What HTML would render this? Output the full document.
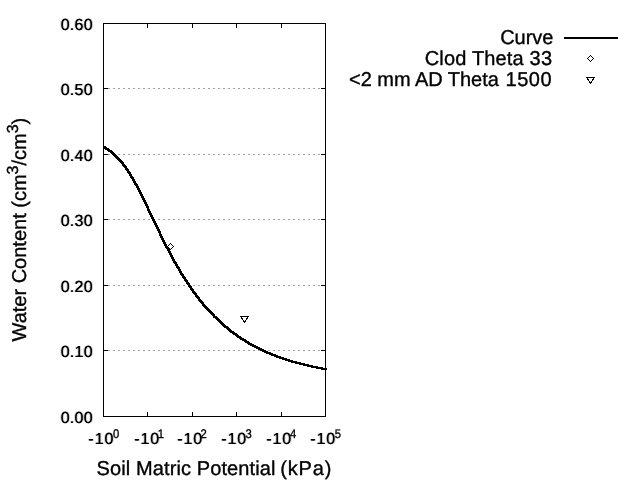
<!DOCTYPE html>
<html><head><meta charset="utf-8"><title>Water retention curve</title>
<style>html,body{margin:0;padding:0;background:#fff;}svg{display:block;}text{font-family:"Liberation Sans",Arial,sans-serif;fill:#000;stroke:#000;stroke-width:0.35px;}text.tk{stroke-width:0.1px;}</style>
</head><body>
<svg width="640" height="480" viewBox="0 0 640 480" text-rendering="geometricPrecision">
<rect width="640" height="480" fill="#fff"/>
<defs><filter id="hb" x="-5%" y="-20%" width="110%" height="140%" color-interpolation-filters="sRGB"><feConvolveMatrix order="3 1" kernelMatrix="0.2 1 0.2" divisor="1" edgeMode="none" preserveAlpha="false"/></filter></defs>
<g stroke="#a0a0a0" stroke-width="1" stroke-dasharray="2,3" shape-rendering="crispEdges">
<line x1="108" y1="350.5" x2="321" y2="350.5"/>
<line x1="108" y1="285.5" x2="321" y2="285.5"/>
<line x1="108" y1="219.5" x2="321" y2="219.5"/>
<line x1="108" y1="154.5" x2="321" y2="154.5"/>
<line x1="108" y1="88.5" x2="321" y2="88.5"/>
</g>
<g stroke="#000" stroke-width="1" fill="none" shape-rendering="crispEdges">
<rect x="103.5" y="23.5" width="222" height="393"/>
<line x1="103" y1="350.5" x2="108" y2="350.5"/><line x1="321" y1="350.5" x2="326" y2="350.5"/>
<line x1="103" y1="285.5" x2="108" y2="285.5"/><line x1="321" y1="285.5" x2="326" y2="285.5"/>
<line x1="103" y1="219.5" x2="108" y2="219.5"/><line x1="321" y1="219.5" x2="326" y2="219.5"/>
<line x1="103" y1="154.5" x2="108" y2="154.5"/><line x1="321" y1="154.5" x2="326" y2="154.5"/>
<line x1="103" y1="88.5" x2="108" y2="88.5"/><line x1="321" y1="88.5" x2="326" y2="88.5"/>
<line x1="147.5" y1="417" x2="147.5" y2="412"/><line x1="147.5" y1="23" x2="147.5" y2="28"/>
<line x1="192.5" y1="417" x2="192.5" y2="412"/><line x1="192.5" y1="23" x2="192.5" y2="28"/>
<line x1="236.5" y1="417" x2="236.5" y2="412"/><line x1="236.5" y1="23" x2="236.5" y2="28"/>
<line x1="281.5" y1="417" x2="281.5" y2="412"/><line x1="281.5" y1="23" x2="281.5" y2="28"/>
</g>
<text class="tk" filter="url(#hb)" x="93" y="423" letter-spacing="0.3" font-size="16" text-anchor="end">0.00</text>
<text class="tk" filter="url(#hb)" x="93" y="357" letter-spacing="0.3" font-size="16" text-anchor="end">0.10</text>
<text class="tk" filter="url(#hb)" x="93" y="292" letter-spacing="0.3" font-size="16" text-anchor="end">0.20</text>
<text class="tk" filter="url(#hb)" x="93" y="226" letter-spacing="0.3" font-size="16" text-anchor="end">0.30</text>
<text class="tk" filter="url(#hb)" x="93" y="161" letter-spacing="0.3" font-size="16" text-anchor="end">0.40</text>
<text class="tk" filter="url(#hb)" x="93" y="95" letter-spacing="0.3" font-size="16" text-anchor="end">0.50</text>
<text class="tk" filter="url(#hb)" x="93" y="30" letter-spacing="0.3" font-size="16" text-anchor="end">0.60</text>
<text class="tk" filter="url(#hb)" x="88.30" y="444" letter-spacing="1" font-size="16">-10</text><text transform="translate(112.90,437.7) scale(0.9,1)" font-size="12.5">0</text>
<text class="tk" filter="url(#hb)" x="134.15" y="444" letter-spacing="1" font-size="16">-10</text><text transform="translate(157.70,437.7) scale(0.9,1)" font-size="12.5">1</text>
<text class="tk" filter="url(#hb)" x="177.15" y="444" letter-spacing="1" font-size="16">-10</text><text transform="translate(200.50,437.7) scale(0.9,1)" font-size="12.5">2</text>
<text class="tk" filter="url(#hb)" x="221.15" y="444" letter-spacing="1" font-size="16">-10</text><text transform="translate(245.50,437.7) scale(0.9,1)" font-size="12.5">3</text>
<text class="tk" filter="url(#hb)" x="266.15" y="444" letter-spacing="1" font-size="16">-10</text><text transform="translate(289.90,437.7) scale(0.9,1)" font-size="12.5">4</text>
<text class="tk" filter="url(#hb)" x="310.15" y="444" letter-spacing="1" font-size="16">-10</text><text transform="translate(334.70,437.7) scale(0.9,1)" font-size="12.5">5</text>
<text x="96.5" y="475" font-size="20" textLength="179" lengthAdjust="spacing">Soil Matric Potential</text><text x="280.3" y="475" font-size="20" textLength="51" lengthAdjust="spacing">(kPa)</text>
<text transform="translate(26,341.5) rotate(-90)" font-size="20">Water Content (cm<tspan font-size="16" dy="-8">3</tspan><tspan dy="8">/cm</tspan><tspan font-size="16" dy="-8">3</tspan><tspan dy="8">)</tspan></text>
<path d="M102.5,145.9 L104.5,145.9 L106.7,147.1 L108.9,148.5 L111.2,150.0 L113.4,151.7 L115.6,153.7 L117.8,155.8 L120.0,158.2 L122.3,160.7 L124.5,163.5 L126.7,166.6 L128.9,169.8 L131.1,173.3 L133.4,177.0 L135.6,180.9 L137.8,185.0 L140.0,189.2 L142.2,193.6 L144.5,198.0 L146.7,202.6 L148.9,207.2 L151.1,211.9 L153.3,216.5 L155.6,221.2 L157.8,225.8 L160.0,230.4 L162.2,235.0 L164.4,239.5 L166.7,243.9 L168.9,248.2 L171.1,252.4 L173.3,256.5 L175.5,260.6 L177.8,264.5 L180.0,268.3 L182.2,272.0 L184.4,275.6 L186.6,279.1 L188.9,282.5 L191.1,285.8 L193.3,288.9 L195.5,292.0 L197.7,295.0 L200.0,297.9 L202.2,300.7 L204.4,303.4 L206.6,306.0 L208.8,308.5 L211.1,310.9 L213.3,313.2 L215.5,315.5 L217.7,317.7 L219.9,319.8 L222.2,321.9 L224.4,323.8 L226.6,325.7 L228.8,327.6 L231.0,329.4 L233.3,331.1 L235.5,332.7 L237.7,334.3 L239.9,335.9 L242.1,337.4 L244.4,338.8 L246.6,340.2 L248.8,341.5 L251.0,342.8 L253.2,344.1 L255.5,345.3 L257.7,346.5 L259.9,347.6 L262.1,348.7 L264.3,349.7 L266.6,350.7 L268.8,351.7 L271.0,352.6 L273.2,353.6 L275.4,354.4 L277.7,355.3 L279.9,356.1 L282.1,356.9 L284.3,357.7 L286.5,358.4 L288.8,359.1 L291.0,359.8 L293.2,360.5 L295.4,361.1 L297.6,361.7 L299.9,362.3 L302.1,362.9 L304.3,363.4 L306.5,364.0 L308.7,364.5 L311.0,365.0 L313.2,365.5 L315.4,365.9 L317.6,366.4 L319.8,366.8 L322.1,367.2 L324.3,367.7 L326.5,368.0 L327.0,368.0 L327.0,370.0 L325.0,370.0 L324.5,370.0 L322.3,369.7 L320.1,369.2 L317.8,368.8 L315.6,368.4 L313.4,367.9 L311.2,367.5 L309.0,367.0 L306.7,366.5 L304.5,366.0 L302.3,365.4 L300.1,364.9 L297.9,364.3 L295.6,363.7 L293.4,363.1 L291.2,362.5 L289.0,361.8 L286.8,361.1 L284.5,360.4 L282.3,359.7 L280.1,358.9 L277.9,358.1 L275.7,357.3 L273.4,356.4 L271.2,355.6 L269.0,354.6 L266.8,353.7 L264.6,352.7 L262.3,351.7 L260.1,350.7 L257.9,349.6 L255.7,348.5 L253.5,347.3 L251.2,346.1 L249.0,344.8 L246.8,343.5 L244.6,342.2 L242.4,340.8 L240.1,339.4 L237.9,337.9 L235.7,336.3 L233.5,334.7 L231.3,333.1 L229.0,331.4 L226.8,329.6 L224.6,327.7 L222.4,325.8 L220.2,323.9 L217.9,321.8 L215.7,319.7 L213.5,317.5 L211.3,315.2 L209.1,312.9 L206.8,310.5 L204.6,308.0 L202.4,305.4 L200.2,302.7 L198.0,299.9 L195.7,297.0 L193.5,294.0 L191.3,290.9 L189.1,287.8 L186.9,284.5 L184.6,281.1 L182.4,277.6 L180.2,274.0 L178.0,270.3 L175.8,266.5 L173.5,262.6 L171.3,258.5 L169.1,254.4 L166.9,250.2 L164.7,245.9 L162.4,241.5 L160.2,237.0 L158.0,232.4 L155.8,227.8 L153.6,223.2 L151.3,218.5 L149.1,213.9 L146.9,209.2 L144.7,204.6 L142.5,200.0 L140.2,195.6 L138.0,191.2 L135.8,187.0 L133.6,182.9 L131.4,179.0 L129.1,175.3 L126.9,171.8 L124.7,168.6 L122.5,165.5 L120.3,162.7 L118.0,160.2 L115.8,157.8 L113.6,155.7 L111.4,153.7 L109.2,152.0 L106.9,150.5 L104.7,149.1 L102.5,147.9 Z" fill="#000" stroke="none" shape-rendering="crispEdges"/>
<path d="M167.5,246.5 L170.5,243.5 L173.5,246.5 L170.5,249.5 Z" fill="#fff" stroke="#000" stroke-width="1" shape-rendering="crispEdges"/>
<path d="M240.5,316.5 L248.5,316.5 L244.5,322.1 Z" fill="#fff" stroke="#000" stroke-width="1" shape-rendering="crispEdges"/>
<text x="553.5" y="44" font-size="20" text-anchor="end">Curve</text>
<text x="424.7" y="65" font-size="20" textLength="127.3" lengthAdjust="spacing">Clod Theta 33</text>
<text x="349" y="86" font-size="20" textLength="149.8" lengthAdjust="spacing">&lt;2 mm AD Theta</text><text x="505.6" y="86" font-size="20" textLength="46" lengthAdjust="spacing">1500</text>
<line x1="564" y1="38" x2="618" y2="38" stroke="#000" stroke-width="2" shape-rendering="crispEdges"/>
<path d="M587.5,58.5 L590.5,55.5 L593.5,58.5 L590.5,61.5 Z" fill="#fff" stroke="#000" stroke-width="1" shape-rendering="crispEdges"/>
<path d="M586.5,77.5 L594.5,77.5 L590.5,83.1 Z" fill="#fff" stroke="#000" stroke-width="1" shape-rendering="crispEdges"/>
</svg></body></html>
